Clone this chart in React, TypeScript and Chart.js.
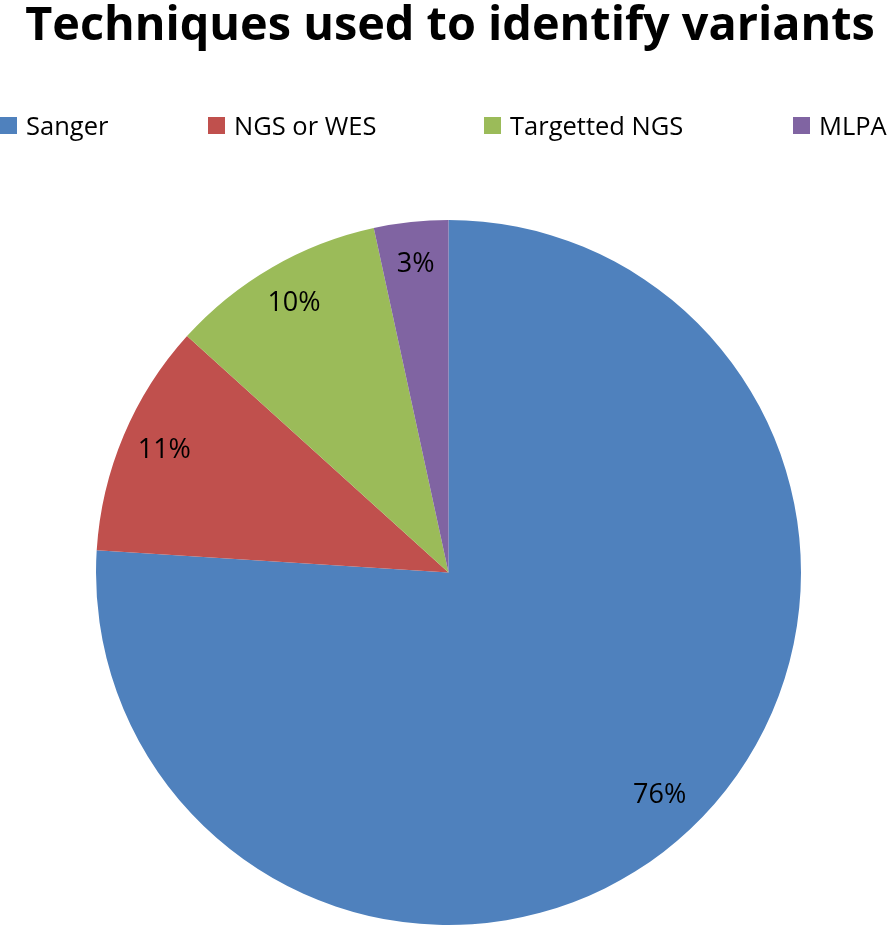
import React, { useEffect, useRef } from "react";
import { Chart, registerables } from "chart.js";

Chart.register(...registerables);

const TITLE = "Techniques used to identify variants";
const categories = ["Sanger", "NGS or WES", "Targetted NGS", "MLPA"];
const shares = [76.0, 10.7, 9.9, 3.4];
const colors = ["#4F81BD", "#C0504D", "#9BBB59", "#8064A2"];
const labelTexts = ["76%", "11%", "10%", "3%"];

const FONT = "'Open Sans', 'DejaVu Sans', sans-serif";
const LEGEND_X = [0, 208, 484, 793];

function fitSize(ctx: CanvasRenderingContext2D, text: string, weight: string, target: number) {
  ctx.font = `${weight} 100px ${FONT}`;
  const w = ctx.measureText(text).width;
  return (100 * target) / w;
}

const overlayPlugin = {
  id: "overlay",
  afterDraw(chart: any) {
    const ctx: CanvasRenderingContext2D = chart.ctx;
    ctx.save();
    // Title
    const ts = fitSize(ctx, TITLE, "bold", 850);
    ctx.font = `bold ${ts}px ${FONT}`;
    ctx.fillStyle = "#000";
    ctx.textAlign = "center";
    ctx.textBaseline = "alphabetic";
    ctx.fillText(TITLE, 450, 40);

    // Legend
    ctx.font = `normal 25.5px ${FONT}`;
    const box = 17;
    const boxGap = 9;
    ctx.textAlign = "left";
    categories.forEach((c, i) => {
      const x = LEGEND_X[i];
      ctx.fillStyle = colors[i];
      ctx.fillRect(x, 117, box, box);
      ctx.fillStyle = "#000";
      ctx.fillText(c, x + box + boxGap, 135);
    });

    // Data labels
    ctx.font = `normal 27px ${FONT}`;
    ctx.textAlign = "center";
    ctx.textBaseline = "middle";
    ctx.fillStyle = "#000";
    const meta = chart.getDatasetMeta(0);
    meta.data.forEach((arc: any, i: number) => {
      const { x: cx, y: cy, startAngle, endAngle, outerRadius } = arc.getProps(
        ["x", "y", "startAngle", "endAngle", "outerRadius"],
        true
      );
      const mid = (startAngle + endAngle) / 2;
      const r = outerRadius * 0.875;
      ctx.fillText(labelTexts[i], cx + Math.cos(mid) * r, cy + Math.sin(mid) * r - 2);
    });
    ctx.restore();
  },
};

export default function App() {
  const ref = useRef<HTMLCanvasElement | null>(null);
  useEffect(() => {
    document.body.style.margin = "0";
    const canvas = ref.current!;
    const chart = new Chart(canvas, {
      type: "pie",
      data: {
        labels: categories,
        datasets: [
          {
            data: shares,
            backgroundColor: colors,
            borderWidth: 0,
          },
        ],
      },
      options: {
        responsive: false,
        animation: false,
        devicePixelRatio: 1,
        layout: { padding: { top: 220, bottom: 1, left: 3, right: 0 } },
        plugins: {
          legend: { display: false },
          title: { display: false },
          tooltip: { enabled: false },
        },
      },
      plugins: [overlayPlugin],
    });
    return () => chart.destroy();
  }, []);
  return (
    <div style={{ width: 894, height: 926, background: "#fff" }}>
      <canvas ref={ref} width={894} height={926} style={{ display: "block" }} />
    </div>
  );
}
